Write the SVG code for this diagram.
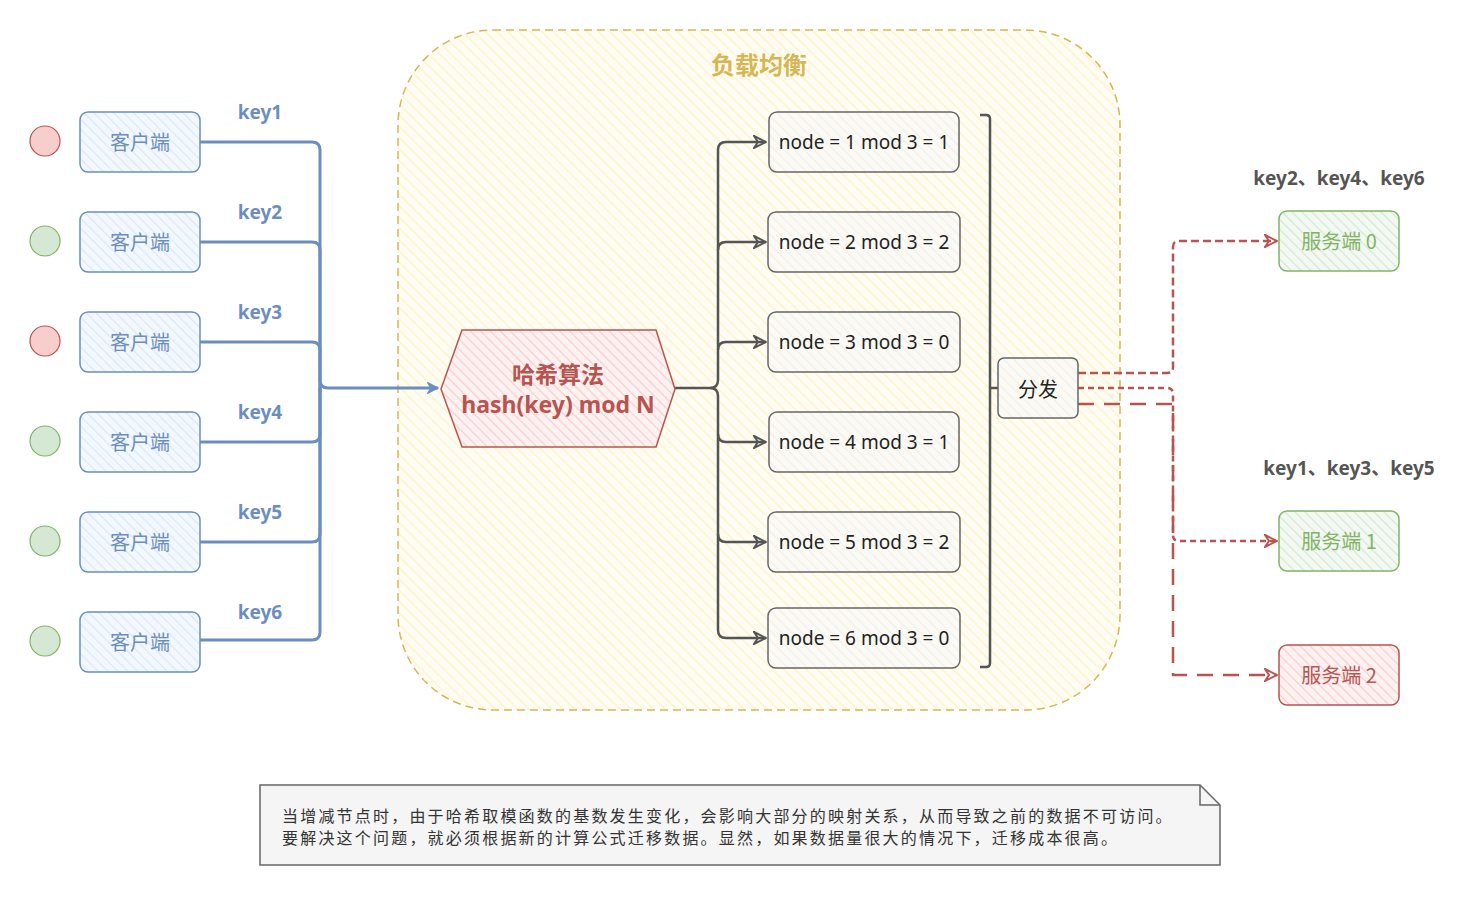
<svg xmlns="http://www.w3.org/2000/svg" width="1480" height="897" viewBox="0 0 1480 897">
<defs>
<pattern id="hY" patternUnits="userSpaceOnUse" width="8" height="8" patternTransform="rotate(-45)"><rect width="8" height="8" fill="#fffdf3"/><line x1="0" y1="0" x2="0" y2="8" stroke="#fff2cc" stroke-width="3"/></pattern>
<pattern id="hB" patternUnits="userSpaceOnUse" width="7" height="7" patternTransform="rotate(-45)"><rect width="7" height="7" fill="#f3f8fe"/><line x1="0" y1="0" x2="0" y2="7" stroke="#dae8fc" stroke-width="2.5"/></pattern>
<pattern id="hR" patternUnits="userSpaceOnUse" width="7" height="7" patternTransform="rotate(-45)"><rect width="7" height="7" fill="#fdf2f1"/><line x1="0" y1="0" x2="0" y2="7" stroke="#f8cecc" stroke-width="2.5"/></pattern>
<pattern id="hG" patternUnits="userSpaceOnUse" width="7" height="7" patternTransform="rotate(-45)"><rect width="7" height="7" fill="#f3f9f2"/><line x1="0" y1="0" x2="0" y2="7" stroke="#d5e8d4" stroke-width="2.5"/></pattern>
<pattern id="hGr" patternUnits="userSpaceOnUse" width="7" height="7" patternTransform="rotate(-45)"><rect width="7" height="7" fill="#fbfaf5"/><line x1="0" y1="0" x2="0" y2="7" stroke="#f0efe8" stroke-width="2.5"/></pattern>
<marker id="aB" viewBox="0 0 12 12" refX="11" refY="6" markerWidth="12" markerHeight="12" markerUnits="userSpaceOnUse" orient="auto"><path d="M1,1 L11,6 L1,11 L4,6 Z" fill="#6c8ebf" stroke="#6c8ebf" stroke-width="1.5"/></marker>
<marker id="aK" viewBox="0 0 14 14" refX="13" refY="7" markerWidth="14" markerHeight="14" markerUnits="userSpaceOnUse" orient="auto"><path d="M1,1 L13,7 L1,13 L5,7 Z" fill="none" stroke="#555" stroke-width="2"/></marker>
<marker id="aR" viewBox="0 0 14 14" refX="13" refY="7" markerWidth="14" markerHeight="14" markerUnits="userSpaceOnUse" orient="auto"><path d="M1,1 L13,7 L1,13 L5,7 Z" fill="none" stroke="#b85450" stroke-width="2"/></marker>
</defs>
<style>
.cli rect{fill:url(#hB);stroke:#6c8ebf;stroke-width:1.5}
.cli text{fill:#6c8ebf;font-family:"Noto Sans CJK SC",sans-serif;font-size:20px;text-anchor:middle}
.key{fill:#6c8ebf;font-family:"Noto Sans","Liberation Sans",sans-serif;font-weight:bold;font-size:19px;text-anchor:middle}
.cr{fill:#f8cecc;stroke:#b85450;stroke-width:1.2}
.cg{fill:#d5e8d4;stroke:#82b366;stroke-width:1.2}
.nd rect{fill:url(#hGr);stroke:#666;stroke-width:1.5}
.nd text{fill:#222;font-family:"Noto Sans","Liberation Sans",sans-serif;font-size:19px;text-anchor:middle}
.bl{fill:none;stroke:#6c8ebf;stroke-width:3;stroke-linejoin:round}
.gl{fill:none;stroke:#555;stroke-width:2.5;stroke-linejoin:round}
.rl{fill:none;stroke:#b85450;stroke-width:2.5}
.sv text{font-family:"Noto Sans CJK SC",sans-serif;font-size:20px;text-anchor:middle}
.sk{fill:#555;font-family:"Noto Sans","Liberation Sans","Noto Sans CJK SC",sans-serif;font-weight:bold;font-size:19px;text-anchor:middle}
.nt{fill:#333;font-family:"Noto Sans CJK SC",sans-serif;font-size:16px;letter-spacing:2.2px}
</style>
<g id="group-lb">
<rect x="398" y="30" width="722" height="680" rx="95" ry="95" fill="url(#hY)" stroke="#d6b656" stroke-width="1.5" stroke-dasharray="8 5"/>
<text x="759" y="74" fill="#d6b656" font-family="Noto Sans CJK SC,sans-serif" font-weight="bold" font-size="24" text-anchor="middle">负载均衡</text>
</g>
<g id="connectors">
<path class="bl" d="M200,142 H312 Q320,142 320,150 V380 Q320,388 328,388 H438" marker-end="url(#aB)"/>
<path class="bl" d="M200,242 H312 Q320,242 320,250 V388"/>
<path class="bl" d="M200,342 H312 Q320,342 320,350 V388"/>
<path class="bl" d="M200,442 H312 Q320,442 320,434 V388"/>
<path class="bl" d="M200,542 H312 Q320,542 320,534 V388"/>
<path class="bl" d="M200,640 H312 Q320,640 320,632 V388"/>
<path class="gl" d="M675,388 H710 Q718,388 718,380 V150 Q718,142 726,142 H766" marker-end="url(#aK)"/>
<path class="gl" d="M718,250 Q718,242 726,242 H766" marker-end="url(#aK)"/>
<path class="gl" d="M718,350 Q718,342 726,342 H766" marker-end="url(#aK)"/>
<path class="gl" d="M710,388 Q718,388 718,396 V630 Q718,638 726,638 H766" marker-end="url(#aK)"/>
<path class="gl" d="M718,434 Q718,442 726,442 H766" marker-end="url(#aK)"/>
<path class="gl" d="M718,534 Q718,542 726,542 H766" marker-end="url(#aK)"/>
<path class="gl" d="M980,115 H986 Q990,115 990,119 V663 Q990,667 986,667 H980"/>
<path class="gl" d="M990,388 H998"/>
<path class="rl" d="M1078,373 H1167 Q1173,373 1173,367 V247 Q1173,241 1179,241 H1277" stroke-dasharray="8 4" marker-end="url(#aR)"/>
<path class="rl" d="M1078,388 H1167 Q1173,388 1173,394 V535 Q1173,541 1179,541 H1277" stroke-dasharray="6 4" marker-end="url(#aR)"/>
<path class="rl" d="M1078,404 H1173 V675 H1277" stroke-dasharray="16 10" marker-end="url(#aR)"/>
</g>
<g id="client-circles">
<circle class="cr" cx="45" cy="141" r="15"/>
<circle class="cg" cx="45" cy="241" r="15"/>
<circle class="cr" cx="45" cy="341" r="15"/>
<circle class="cg" cx="45" cy="441" r="15"/>
<circle class="cg" cx="45" cy="541" r="15"/>
<circle class="cg" cx="45" cy="641" r="15"/>
</g>
<g id="client1" class="cli"><rect x="80" y="112" width="120" height="60" rx="8"/><text x="140" y="150">客户端</text></g>
<g id="client2" class="cli"><rect x="80" y="212" width="120" height="60" rx="8"/><text x="140" y="250">客户端</text></g>
<g id="client3" class="cli"><rect x="80" y="312" width="120" height="60" rx="8"/><text x="140" y="350">客户端</text></g>
<g id="client4" class="cli"><rect x="80" y="412" width="120" height="60" rx="8"/><text x="140" y="450">客户端</text></g>
<g id="client5" class="cli"><rect x="80" y="512" width="120" height="60" rx="8"/><text x="140" y="550">客户端</text></g>
<g id="client6" class="cli"><rect x="80" y="612" width="120" height="60" rx="8"/><text x="140" y="650">客户端</text></g>
<g id="key-labels">
<text class="key" x="260" y="119">key1</text>
<text class="key" x="260" y="219">key2</text>
<text class="key" x="260" y="319">key3</text>
<text class="key" x="260" y="419">key4</text>
<text class="key" x="260" y="519">key5</text>
<text class="key" x="260" y="619">key6</text>
</g>
<g id="hash">
<polygon points="441,389 462,330 656,330 675,389 656,447 462,447" fill="url(#hR)" stroke="#b85450" stroke-width="1.5"/>
<text x="558" y="383" fill="#b85450" font-family="Noto Sans CJK SC,sans-serif" font-weight="bold" font-size="23" text-anchor="middle">哈希算法</text>
<text x="558" y="413" fill="#b85450" font-family="Noto Sans,Liberation Sans,sans-serif" font-weight="bold" font-size="23" text-anchor="middle">hash(key) mod N</text>
</g>
<g id="node1" class="nd"><rect x="769" y="112" width="190" height="60" rx="8"/><text x="864" y="149">node = 1 mod 3 = 1</text></g>
<g id="node2" class="nd"><rect x="768" y="212" width="192" height="60" rx="8"/><text x="864" y="249">node = 2 mod 3 = 2</text></g>
<g id="node3" class="nd"><rect x="768" y="312" width="192" height="60" rx="8"/><text x="864" y="349">node = 3 mod 3 = 0</text></g>
<g id="node4" class="nd"><rect x="769" y="412" width="190" height="60" rx="8"/><text x="864" y="449">node = 4 mod 3 = 1</text></g>
<g id="node5" class="nd"><rect x="768" y="512" width="192" height="60" rx="8"/><text x="864" y="549">node = 5 mod 3 = 2</text></g>
<g id="node6" class="nd"><rect x="768" y="608" width="192" height="60" rx="8"/><text x="864" y="645">node = 6 mod 3 = 0</text></g>
<g id="dispatch" class="nd"><rect x="998" y="358" width="80" height="60" rx="6"/><text x="1038" y="397" style="font-family:'Noto Sans CJK SC',sans-serif;font-size:20px">分发</text></g>
<g id="server0" class="sv"><rect x="1279" y="211" width="120" height="60" rx="8" fill="url(#hG)" stroke="#82b366" stroke-width="1.5"/><text x="1339" y="249" fill="#82b366">服务端 0</text></g>
<g id="server1" class="sv"><rect x="1279" y="511" width="120" height="60" rx="8" fill="url(#hG)" stroke="#82b366" stroke-width="1.5"/><text x="1339" y="549" fill="#82b366">服务端 1</text></g>
<g id="server2" class="sv"><rect x="1279" y="645" width="120" height="60" rx="8" fill="url(#hR)" stroke="#b85450" stroke-width="1.5"/><text x="1339" y="683" fill="#b85450">服务端 2</text></g>
<g id="server-keys">
<text class="sk" x="1339" y="185">key2、key4、key6</text>
<text class="sk" x="1349" y="475">key1、key3、key5</text>
</g>
<g id="note">
<path d="M260,785 H1200 L1220,805 V865 H260 Z" fill="#f5f5f5" stroke="#666" stroke-width="1.5"/>
<path d="M1200,785 V805 H1220" fill="none" stroke="#666" stroke-width="1.5"/>
<text class="nt" x="282" y="822">当增减节点时，由于哈希取模函数的基数发生变化，会影响大部分的映射关系，从而导致之前的数据不可访问。</text>
<text class="nt" x="282" y="844">要解决这个问题，就必须根据新的计算公式迁移数据。显然，如果数据量很大的情况下，迁移成本很高。</text>
</g>
</svg>
